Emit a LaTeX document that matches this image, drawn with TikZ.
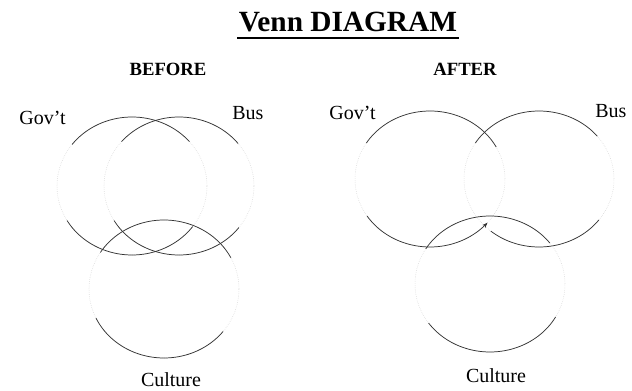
\documentclass[tikz,border=0pt]{standalone}
\usepackage{fontspec}
\usetikzlibrary{arrows.meta}
\setmainfont{Liberation Serif}
\newcommand\vennarc[6]{\draw[arcline] plot[domain=#5:#6,samples=50,smooth] ({#1+#3*cos(\x)},{#2-#4*sin(\x)});}
\newcommand\vennarctip[6]{\draw[arcline,-{Stealth[length=4pt,width=3pt]}] plot[domain=#5:#6,samples=50,smooth] ({#1+#3*cos(\x)},{#2-#4*sin(\x)});}
\newcommand\vennfaint[4]{\draw[faintline] plot[domain=0:360,samples=90,smooth] ({#1+#3*cos(\x)},{#2-#4*sin(\x)});}
\begin{document}
\begin{tikzpicture}[x=0.75pt,y=-0.75pt,
  arcline/.style={draw=black!80,line width=0.55pt},
  faintline/.style={draw=black!18,line width=0.4pt,densely dotted},
  lbl/.style={inner sep=0pt,font=\fontsize{15}{17}\selectfont},
  head/.style={inner sep=0pt,font=\bfseries\fontsize{14}{16}\selectfont},
  ttl/.style={inner sep=0pt,font=\bfseries\fontsize{22}{24}\selectfont}]
\useasboundingbox[fill=white] (0,0) rectangle (632,391);
% title
\node[ttl,anchor=base] (title) at (348,32) {Venn DIAGRAM};
\draw[line width=1.2pt] ([yshift=-4.5pt,xshift=-1pt]title.base west) -- ([yshift=-4.5pt,xshift=1pt]title.base east);
\node[head,anchor=base] (before) at (168,76) {BEFORE};
\node[head,anchor=base] (after) at (465,76) {AFTER};
% labels
\node[lbl,anchor=base east] (govB) at (66,125) {Gov't};
\node[lbl,anchor=base west] (busB) at (232,120) {Bus};
\node[lbl,anchor=base] (culB) at (171,387) {Culture};
\node[lbl,anchor=base east] (govA) at (376,120) {Gov't};
\node[lbl,anchor=base west] (busA) at (595,118) {Bus};
\node[lbl,anchor=base] (culA) at (496,383) {Culture};
% BEFORE circles
\vennfaint{132}{186}{75}{69}
\vennfaint{179}{186}{75}{69}
\vennfaint{164}{289}{75}{69}
\vennarc{132}{186}{75}{69}{40}{143}
\vennarc{132}{186}{75}{69}{210}{324}
\vennarc{179}{186}{75}{69}{38}{140}
\vennarc{179}{186}{75}{69}{210}{323}
\vennarc{164}{289}{75}{69}{27}{148}
\vennarc{164}{289}{75}{69}{205}{322}
% AFTER circles
\vennfaint{430}{179}{75}{68}
\vennfaint{539}{179}{75}{68}
\vennfaint{490}{284}{75}{68}
\vennarc{430}{179}{75}{68}{28}{148}
\vennarctip{430}{179}{75}{68}{213}{320}
\vennarc{539}{179}{75}{68}{39}{148}
\vennarc{539}{179}{75}{68}{230}{323}
\vennarc{490}{284}{75}{68}{37}{149}
\vennarc{490}{284}{75}{68}{215}{331}
\end{tikzpicture}
\end{document}
